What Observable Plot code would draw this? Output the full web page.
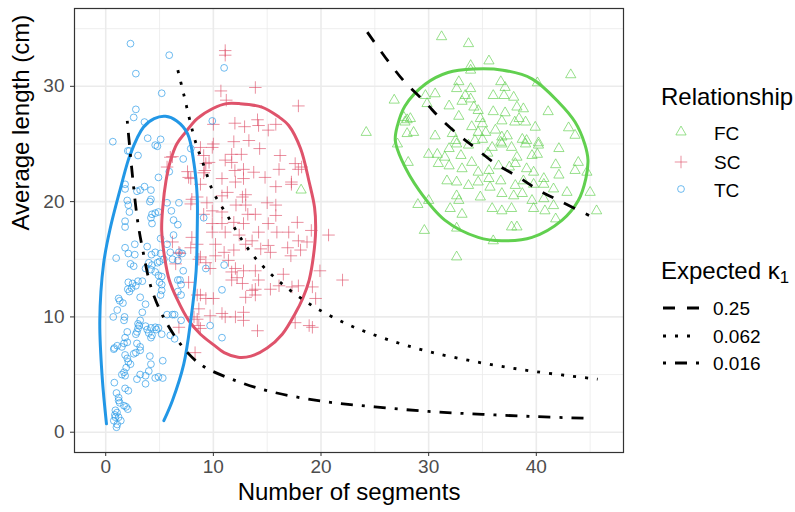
<!DOCTYPE html>
<html><head><meta charset="utf-8">
<script src="https://cdn.jsdelivr.net/npm/d3@7"></script>
<script src="https://cdn.jsdelivr.net/npm/@observablehq/plot@0.6"></script>
<style>
body{margin:0;background:#fff;font-family:"Liberation Sans",Arial,sans-serif;}
#wrap{position:relative;width:795px;height:512px;overflow:hidden;}
.lg{position:absolute;line-height:1;white-space:nowrap;color:#000;}
.lg sub{font-size:0.7em;vertical-align:-0.25em;line-height:0;}
</style></head><body><div id="wrap"></div>
<script>
// ---- data ----
const groups = ["FC", "SC", "TC"];
const groupColors = ["#61D04F", "#DF536B", "#2297E6"];
const kappaLabels = ["0.25", "0.062", "0.016"];
const xTicks = [0, 10, 20, 30, 40];
const yTicks = [0, 10, 20, 30];
const xMinor = [5, 15, 25, 35, 45];
const yMinor = [5, 15, 25, 35];

const fcPoints = [[31.2,34.3],[33.7,33.7],[35.6,32.2],[33.9,31.8],[33.9,31.4],[43.2,31.0],[36.7,30.4],[37.1,29.9],[40.1,30.3],[32.8,30.4],[32.6,29.8],[33.9,29.8],[33.4,29.2],[33.9,28.9],[26.8,28.8],[29.7,29.2],[30.6,29.35],[29.85,28.5],[31.9,28.3],[33.1,28.7],[34.2,28.2],[34.6,27.9],[36.0,29.2],[37.0,29.2],[37.9,29.05],[36.0,27.8],[37.1,27.7],[38.2,28.2],[38.8,28.05],[41.1,27.8],[27.7,27.3],[28.0,27.1],[28.3,27.2],[27.8,26.9],[32.8,27.4],[34.8,27.2],[35.0,26.75],[36.8,27.0],[38.4,27.2],[39.0,26.9],[38.0,26.9],[39.9,26.45],[43.0,26.4],[43.6,25.75],[24.2,26.0],[28.0,25.9],[28.6,26.0],[30.6,25.7],[32.2,25.9],[34.6,26.0],[35.3,26.0],[36.8,25.6],[37.3,25.7],[38.7,25.4],[39.1,25.3],[40.2,25.1],[32.5,25.3],[35.0,25.4],[36.7,25.15],[27.1,25.0],[30.0,24.1],[30.8,24.1],[31.9,24.6],[31.5,23.85],[32.6,25.0],[33.7,24.9],[35.9,24.7],[36.8,25.0],[37.7,24.7],[39.0,25.0],[40.2,24.9],[42.1,24.6],[38.2,23.85],[39.6,24.0],[40.1,24.1],[28.1,23.4],[30.9,23.3],[31.9,23.1],[33.1,22.85],[34.0,23.4],[34.6,22.55],[35.6,22.7],[36.5,23.1],[38.05,23.3],[39.1,22.85],[39.75,22.55],[40.7,22.0],[41.8,23.2],[42.1,22.3],[43.6,22.7],[43.9,23.4],[44.7,22.55],[31.7,21.8],[32.6,21.7],[33.7,21.4],[34.6,21.7],[35.6,22.0],[35.7,21.25],[36.7,21.8],[38.05,21.4],[38.8,21.8],[39.75,21.5],[40.7,21.5],[41.6,21.1],[42.85,20.8],[45.0,20.8],[29.0,19.75],[30.0,20.1],[32.6,20.5],[32.8,20.1],[34.8,20.4],[36.8,20.7],[37.9,20.5],[38.7,20.7],[39.6,20.1],[40.7,20.25],[41.6,19.65],[32.0,19.4],[33.1,18.9],[35.9,19.4],[36.8,19.2],[37.7,19.4],[39.75,19.4],[40.8,19.2],[41.8,18.5],[45.6,19.2],[29.6,17.5],[32.6,17.7],[37.7,17.8],[38.2,17.8],[36.0,16.6],[32.6,15.2],[18.15,21.0],[34.0,26.5],[35.5,24.2],[33.0,24.0],[36.2,26.2],[34.3,25.3],[37.5,23.0]];

const scPoints = [[11.1,33.1],[11.1,32.7],[10.7,29.6],[13.9,29.9],[11.2,28.8],[17.9,28.3],[12.0,26.8],[12.9,26.5],[14.1,27.1],[14.2,26.6],[15.1,26.2],[15.8,26.7],[10.0,26.7],[11.9,25.2],[13.3,25.3],[14.3,24.6],[10.0,25.0],[9.9,24.7],[11.7,24.1],[12.6,24.1],[16.2,24.0],[11.1,23.6],[11.7,23.4],[9.6,23.4],[9.3,23.3],[6.2,23.9],[5.7,23.0],[7.6,22.6],[7.7,22.1],[9.2,22.7],[9.1,22.5],[12.0,22.7],[12.8,22.8],[13.75,22.55],[16.1,22.8],[17.6,23.3],[18.2,23.0],[17.9,22.8],[10.8,22.0],[12.05,21.7],[12.8,22.0],[14.8,22.1],[17.25,21.7],[7.9,22.0],[6.0,23.85],[8.8,24.7],[9.1,24.0],[8.8,21.5],[8.5,20.4],[7.9,19.8],[15.8,21.3],[17.25,21.5],[13.0,20.6],[11.3,20.8],[10.8,20.5],[12.7,20.4],[15.0,19.9],[15.8,19.7],[12.1,19.7],[13.0,19.7],[9.4,19.9],[8.0,20.2],[9.1,18.9],[9.9,19.2],[10.8,19.1],[13.2,18.9],[13.9,18.9],[15.8,18.8],[17.8,18.2],[19.1,17.5],[20.7,17.1],[22.0,13.2],[19.9,14.0],[9.9,18.1],[10.8,18.1],[11.9,18.2],[12.8,18.1],[14.2,17.35],[15.1,18.1],[15.9,17.35],[17.0,17.35],[17.9,16.6],[18.7,16.5],[9.9,17.35],[11.1,17.35],[12.4,17.1],[10.2,16.3],[11.0,15.6],[11.9,15.8],[13.0,16.3],[13.6,16.6],[14.4,15.9],[15.1,16.2],[15.3,15.6],[16.9,16.0],[18.1,15.8],[17.2,15.3],[6.8,15.6],[6.5,14.6],[9.3,14.7],[8.65,15.0],[9.7,14.2],[10.2,15.3],[11.4,14.9],[11.7,13.9],[12.05,14.2],[12.8,14.0],[12.2,13.4],[13.9,14.0],[14.2,13.2],[11.7,13.2],[12.7,12.9],[13.6,12.3],[13.9,12.4],[16.5,13.7],[16.1,12.7],[15.3,12.4],[17.3,12.6],[17.9,12.7],[19.2,12.6],[8.8,11.9],[9.3,11.6],[10.0,11.6],[8.65,10.7],[9.7,10.1],[8.5,9.8],[10.8,10.3],[11.1,10.0],[12.05,10.0],[12.8,10.4],[12.8,9.7],[13.9,11.9],[13.0,11.7],[19.5,11.6],[19.2,9.1],[18.9,9.25],[17.6,9.5],[14.1,8.8],[8.65,9.25],[6.2,16.5],[6.9,15.5],[8.0,16.9],[7.9,16.0],[8.5,16.3],[8.8,15.2],[7.7,13.0],[8.5,11.9],[8.2,10.0],[8.8,9.0],[6.8,9.1],[8.3,6.9]];

const tcPoints = [[2.3,33.7],[5.9,32.7],[2.8,31.1],[11.0,31.6],[5.2,29.4],[2.8,28.0],[2.6,27.3],[3.6,26.9],[9.9,27.0],[0.66,25.2],[5.1,25.4],[4.6,24.9],[4.8,24.8],[3.9,25.5],[2.05,24.4],[2.2,24.4],[3.0,24.0],[7.2,23.7],[7.9,24.6],[5.9,22.6],[4.9,22.1],[1.8,21.5],[1.8,21.1],[3.6,21.3],[3.2,21.0],[2.9,20.9],[4.2,21.0],[4.2,20.2],[4.1,20.0],[2.0,20.1],[2.1,19.7],[2.2,19.1],[5.7,19.9],[6.8,19.9],[6.1,19.2],[6.3,18.4],[6.7,18.0],[4.3,18.9],[4.6,19.0],[4.9,19.1],[4.2,18.6],[4.3,18.1],[1.8,18.3],[1.8,17.8],[9.1,18.6],[6.3,17.1],[2.7,16.3],[1.8,16.0],[3.85,16.1],[5.1,16.8],[5.7,16.3],[6.0,15.6],[6.8,15.6],[0.97,15.1],[2.1,15.5],[2.7,15.4],[4.25,15.4],[4.6,15.6],[5.1,15.5],[5.4,15.0],[2.3,14.6],[2.6,14.4],[4.0,14.7],[4.3,14.5],[4.8,14.7],[5.0,14.8],[3.7,14.2],[4.2,14.1],[4.6,13.9],[4.9,13.6],[6.2,15.0],[6.7,14.9],[7.1,15.5],[7.2,14.0],[5.2,13.5],[5.2,12.8],[5.0,13.0],[6.7,13.2],[6.9,13.2],[7.0,12.8],[6.7,12.2],[7.0,11.9],[2.1,13.0],[2.5,12.9],[3.0,13.1],[2.8,12.7],[2.4,12.5],[2.05,12.4],[2.2,12.2],[3.4,13.1],[3.2,11.7],[5.1,11.9],[5.2,12.3],[1.2,11.6],[1.3,11.4],[1.6,11.2],[1.07,10.6],[0.7,10.0],[3.7,11.1],[3.4,10.4],[3.2,9.7],[1.75,10.0],[1.7,9.7],[2.0,8.7],[5.7,10.2],[6.2,10.2],[6.4,10.2],[3.0,9.4],[3.1,9.25],[3.0,9.0],[2.9,8.7],[3.7,9.2],[3.85,8.9],[4.2,9.05],[4.0,8.6],[4.3,8.4],[4.2,8.2],[4.6,9.1],[4.7,8.9],[4.9,9.05],[5.2,8.5],[6.0,8.4],[6.4,8.1],[2.8,8.5],[1.8,8.2],[2.0,7.8],[1.7,7.7],[1.5,7.4],[1.07,7.5],[0.8,7.3],[0.75,7.2],[2.9,7.7],[3.2,7.4],[3.2,7.1],[2.8,6.9],[2.6,6.8],[1.8,6.7],[2.0,6.4],[2.1,6.1],[2.3,5.9],[1.9,5.6],[1.7,5.2],[1.8,4.9],[1.5,5.0],[4.1,6.6],[4.2,5.9],[4.0,5.3],[3.7,4.9],[3.7,4.2],[3.2,5.0],[2.9,4.6],[5.3,6.2],[4.6,4.7],[5.3,4.7],[4.9,4.8],[0.8,4.3],[1.0,3.4],[1.2,3.0],[1.2,2.75],[1.3,2.55],[1.7,2.3],[1.9,2.2],[2.05,2.0],[1.8,3.8],[2.1,3.6],[0.9,1.9],[1.05,1.7],[0.85,1.5],[0.9,1.3],[1.2,1.3],[1.4,1.0],[0.75,1.0],[1.07,0.67],[1.0,0.43],[9.3,14.2],[11.0,14.5],[10.8,12.35],[9.7,9.25],[10.8,8.2],[7.0,9.7]];

// data ellipses (outline)
const fcEllipse = [[34.2,31.5],[36.9,31.4],[39.6,30.65],[42.1,28.6],[43.6,26.9],[44.5,25.0],[44.8,23.6],[44.6,22.0],[43.9,20.1],[42.4,18.4],[39.6,16.9],[36.8,16.6],[34.6,16.9],[31.5,18.4],[29.1,21.0],[27.5,23.6],[26.9,25.3],[27.1,26.6],[27.8,28.3],[29.7,30.2],[31.8,31.2]];
const scEllipse = [[12.4,28.5],[14.5,28.2],[16.0,27.4],[17.0,26.6],[18.1,24.6],[18.9,21.7],[19.4,19.5],[19.5,17.5],[19.3,15.3],[18.9,13.2],[18.3,11.6],[17.6,10.3],[16.4,8.5],[15.0,7.3],[13.5,6.6],[12.3,6.5],[11.0,6.9],[10.0,7.6],[8.8,8.5],[7.7,9.7],[6.6,11.6],[5.9,13.2],[5.5,15.0],[5.2,17.5],[5.3,19.5],[5.6,21.8],[6.0,23.5],[6.6,25.0],[7.4,26.0],[8.5,27.2],[10.0,28.1],[11.2,28.5]];
const tcEllipse = [[0.07,0.73],[-0.33,4.8],[-0.55,9.7],[-0.2,14.6],[0.4,17.6],[1.4,21.25],[2.3,24.15],[3.5,26.45],[4.5,27.2],[5.55,27.4],[6.6,27.0],[7.6,25.9],[8.2,23.3],[8.5,20.4],[8.5,17.5],[8.4,14.0],[7.9,9.7],[7.25,5.9],[6.2,2.75],[5.4,1.0]];

// expected kappa_1 curves
const k025 = [[24.3,34.7],[26.3,32.1],[27.8,30.35],[29.7,28.6],[31.1,27.2],[32.9,25.7],[34.0,24.9],[36.2,23.3],[38.4,22.1],[40.2,21.0],[42.4,19.95],[44.9,18.8]];
const k0062 = [[6.7,31.4],[7.25,29.3],[7.8,27.1],[8.4,25.0],[9.2,22.9],[10.0,20.8],[11.3,18.8],[12.5,16.9],[13.9,15.1],[15.6,13.5],[17.5,12.05],[19.5,10.8],[22.6,9.3],[26,8.1],[30,7.0],[35,6.0],[40,5.25],[45.7,4.6]];
const k0016 = [[2.0,27.0],[2.3,24.0],[2.5,22.1],[2.8,19.5],[3.0,18.1],[3.4,16.0],[4.3,12.3],[5.7,9.4],[7.6,6.9],[9.1,5.7],[12,4.5],[15,3.6],[20,2.7],[25,2.2],[30,1.8],[35,1.55],[40,1.35],[45,1.2]];

// ---- styles ----
const FONT = "Liberation Sans, Arial, sans-serif";
const symbols = ["triangle", "plus", "circle"];
const symR = [3.8, 4.1, 3.4];
const dashes = ["12,12", "3,9", "3,9,12,9"];
const lw = 2.8;
const TICK_FS = 19, TITLE_FS = 24;

const X = d => d[0], Y = d => d[1];
const pts = [fcPoints, scPoints, tcPoints];
const ells = [fcEllipse, scEllipse, tcEllipse];
const kap = [k025, k0062, k0016];

const marks = [
  Plot.gridX(xMinor, {stroke: "#EBEBEB", strokeOpacity: 1, strokeWidth: 0.8}),
  Plot.gridY(yMinor, {stroke: "#EBEBEB", strokeOpacity: 1, strokeWidth: 0.8}),
  Plot.gridX(xTicks, {stroke: "#EBEBEB", strokeOpacity: 1, strokeWidth: 1.6}),
  Plot.gridY(yTicks, {stroke: "#EBEBEB", strokeOpacity: 1, strokeWidth: 1.6})
];
pts.forEach((p, i) => marks.push(Plot.dot(p, {x: X, y: Y, symbol: symbols[i], r: symR[i], fill: "none", stroke: groupColors[i], strokeOpacity: 0.65, strokeWidth: 1})));
ells.forEach((e, i) => marks.push(Plot.line(e, {x: X, y: Y, curve: i === 2 ? "catmull-rom" : "catmull-rom-closed", stroke: groupColors[i], strokeWidth: 3})));
kap.forEach((k, i) => marks.push(Plot.line(k, {x: X, y: Y, curve: "catmull-rom", stroke: "#000", strokeWidth: lw, strokeDasharray: dashes[i], strokeLinecap: "butt"})));
marks.push(
  Plot.frame({stroke: "#333333", strokeWidth: 1.2}),
  Plot.axisX(xTicks, {tickSize: 4, tickPadding: 3, fontSize: TICK_FS, stroke: "#333333", fill: "#4D4D4D", label: null}),
  Plot.axisY(yTicks, {tickSize: 4, tickPadding: 6, fontSize: TICK_FS, stroke: "#333333", fill: "#4D4D4D", label: null}),
  Plot.text(["Number of segments"], {frameAnchor: "bottom", dy: 47, fontSize: TITLE_FS, fill: "#000"}),
  Plot.text(["Average length (cm)"], {frameAnchor: "left", dx: -53, rotate: -90, fontSize: TITLE_FS, fill: "#000"})
);

const chart = Plot.plot({
  width: 795, height: 512,
  marginLeft: 74, marginRight: 172, marginTop: 8, marginBottom: 60,
  style: {fontFamily: FONT, background: "white", overflow: "visible"},
  x: {domain: [-2.9, 48.1]},
  y: {domain: [-1.76, 36.75]},
  marks
});
const wrap = document.getElementById("wrap");
wrap.appendChild(chart);

// ---- legends (HTML) ----
function addText(html, left, top, size) {
  const d = document.createElement("div");
  d.className = "lg";
  d.style.left = left + "px"; d.style.top = top + "px"; d.style.fontSize = size + "px";
  d.innerHTML = html;
  wrap.appendChild(d);
}
function addSvg(left, top, w, h, inner) {
  const d = document.createElement("div");
  d.className = "lg";
  d.style.left = left + "px"; d.style.top = top + "px";
  d.innerHTML = `<svg width="${w}" height="${h}" style="display:block">${inner}</svg>`;
  wrap.appendChild(d);
}
const capOff = fs => 0.489 * fs; // top of line box to cap centre (line-height 1)
addText("Relationship", 661, 96.7 - capOff(TITLE_FS), TITLE_FS);
const keyY = [132, 161.5, 189];
groups.forEach((g, i) => {
  const p = d3.symbol([d3.symbolTriangle, d3.symbolPlus, d3.symbolCircle][i], Math.PI * symR[i] ** 2)();
  const path = `<path d="${p}" transform="translate(10,10)" stroke="${groupColors[i]}" stroke-opacity="0.65" fill="none"/>`;
  addSvg(671, keyY[i] - 10, 20, 20, path);
  addText(g, 714, keyY[i] + 1 - capOff(TICK_FS), TICK_FS);
});
addText("Expected κ<sub>1</sub>", 661, 270.8 - capOff(TITLE_FS), TITLE_FS);
const lineY = [308.3, 336, 363.3];
kappaLabels.forEach((l, i) => {
  addSvg(663, lineY[i] - 5, 36, 10, `<line x1="0" x2="36" y1="5" y2="5" stroke="#000" stroke-width="${lw}" stroke-dasharray="${dashes[i]}"/>`);
  addText(l, 713, lineY[i] - capOff(TICK_FS), TICK_FS);
});
</script>
</body></html>
